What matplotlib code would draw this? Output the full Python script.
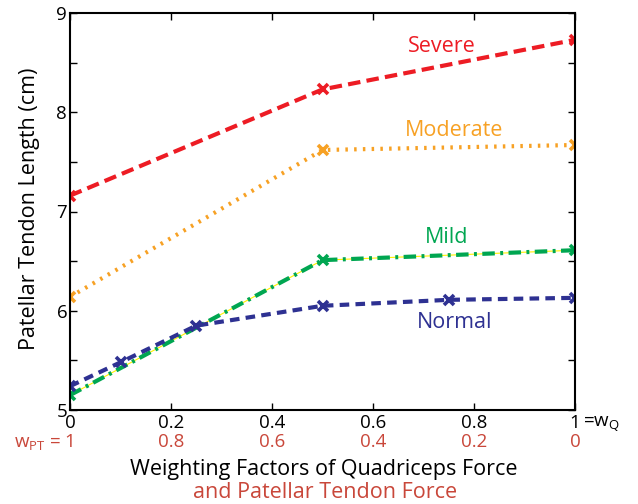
import matplotlib
matplotlib.use("Agg")
import matplotlib.pyplot as plt
from matplotlib.ticker import MultipleLocator

plt.rcParams["font.family"] = ["Open Sans", "DejaVu Sans"]
plt.rcParams["mathtext.fontset"] = "custom"
plt.rcParams["mathtext.rm"] = "Open Sans"
plt.rcParams["mathtext.it"] = "Open Sans"

# valeurs
w_q = [0, 0.5, 1]
severe = [7.16, 8.23, 8.73]
moderate = [6.14, 7.62, 7.67]
mild = [5.15, 6.51, 6.61]
w_q_normal = [0, 0.1, 0.25, 0.5, 0.75, 1]
normal = [5.24, 5.48, 5.85, 6.05, 6.11, 6.13]

xticks = [0, 0.2, 0.4, 0.6, 0.8, 1]
xtick_labels = ["0", "0.2", "0.4", "0.6", "0.8", "1"]
w_pt_labels = ["1", "0.8", "0.6", "0.4", "0.2", "0"]

ROUGE = "#ED1C24"
ORANGE = "#F7A124"
VERT = "#00A651"
BLEU = "#2E3192"
BRIQUE = "#C9473A"

fig = plt.figure(figsize=(6.38, 5.04), dpi=100)
fig.patch.set_facecolor("white")
ax = fig.add_axes([70 / 638, 1 - 410 / 504, 505 / 638, 397 / 504])

kw = dict(lw=3, marker="x", ms=7, mew=2.6)
ax.plot(w_q, severe, color=ROUGE, ls=(0, (3, 1.5)), **kw)
ax.plot(w_q, moderate, color=ORANGE, ls=(0, (0.6, 1.5)), **kw)
ax.plot(w_q, mild, color="#FFF200", lw=0.8, zorder=1.9)
ax.plot(w_q, mild, color=VERT, ls=(0, (3, 1.3, 0.7, 1.3)), **kw)
ax.plot(w_q_normal, normal, color=BLEU, ls=(0, (2.3, 1.5)), **kw)

fs_lab = 15.5
ax.text(0.737, 8.66, "Severe", color=ROUGE, fontsize=fs_lab, ha="center", va="center")
ax.text(0.76, 7.82, "Moderate", color=ORANGE, fontsize=fs_lab, ha="center", va="center")
ax.text(0.746, 6.74, "Mild", color=VERT, fontsize=fs_lab, ha="center", va="center")
ax.text(0.762, 5.88, "Normal", color=BLEU, fontsize=fs_lab, ha="center", va="center")

ax.set_xlim(0, 1)
ax.set_ylim(5, 9)
ax.set_xticks(xticks)
ax.set_xticklabels(xtick_labels)
ax.yaxis.set_major_locator(MultipleLocator(1))
ax.yaxis.set_minor_locator(MultipleLocator(0.5))
ax.tick_params(which="both", direction="in", top=True, right=True,
               labelsize=13.5, pad=2)
ax.tick_params(axis="x", pad=3)
ax.tick_params(which="major", length=5, width=1)
ax.tick_params(which="minor", length=5, width=1)
for s in ax.spines.values():
    s.set_linewidth(1.5)

fs_tick = 13.5
trans = ax.get_xaxis_transform()
ax.text(1.016, -0.035, r"=w$_\mathrm{Q}$", fontsize=fs_tick, transform=trans,
        ha="left", va="center")
for x, lab in zip(xticks, w_pt_labels):
    if x == 0:
        ax.text(0.006, -0.08, r"w$_\mathrm{PT}$ = 1", fontsize=fs_tick, color=BRIQUE,
                transform=trans, ha="right", va="center")
    else:
        ax.text(x, -0.08, lab, fontsize=fs_tick, color=BRIQUE, transform=trans,
                ha="center", va="center")

fs_ax = 15.5
ax.text(0.502, -0.164, "Weighting Factors of Quadriceps Force", fontsize=fs_ax,
        transform=ax.transAxes, ha="center", va="baseline")
ax.text(0.505, -0.222, "and Patellar Tendon Force", fontsize=fs_ax, color=BRIQUE,
        transform=ax.transAxes, ha="center", va="baseline")
ax.text(-0.08, 0.506, "Patellar Tendon Length (cm)", fontsize=fs_ax,
        rotation=90, transform=ax.transAxes, ha="center", va="center")

fig.savefig("out.png", dpi=100, facecolor="white")
